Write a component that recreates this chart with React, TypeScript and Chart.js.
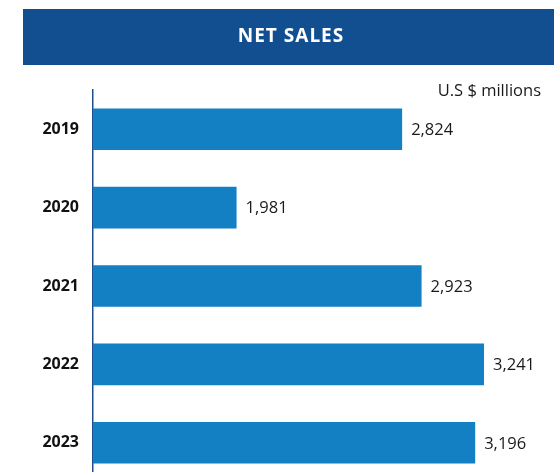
import React, { useEffect, useRef } from "react";
import { Chart, registerables } from "chart.js";

Chart.register(...registerables);

const years = ["2019", "2020", "2021", "2022", "2023"];
const netSales = [2824, 1981, 2923, 3241, 3196];
const titleText = "NET SALES";
const unitText = "U.S $ millions";

const FONT = "'Open Sans', 'Liberation Sans', sans-serif";

const headerPlugin = {
  id: "headerPlugin",
  beforeDraw(chart: any) {
    const ctx = chart.ctx;
    ctx.save();
    ctx.fillStyle = "#124f91";
    ctx.fillRect(23, 9, 531, 56);
    ctx.fillStyle = "#ffffff";
    ctx.font = `bold 19px ${FONT}`;
    try { (ctx as any).letterSpacing = "1px"; } catch (e) {}
    ctx.textAlign = "center";
    ctx.textBaseline = "middle";
    ctx.fillText(titleText, 291, 37);
    try { (ctx as any).letterSpacing = "0px"; } catch (e) {}
    ctx.fillStyle = "#1a1a1a";
    ctx.font = `16.5px ${FONT}`;
    ctx.textAlign = "right";
    ctx.textBaseline = "alphabetic";
    ctx.fillText(unitText, 541, 96);
    ctx.restore();
  },
};

const valueLabelPlugin = {
  id: "valueLabelPlugin",
  afterDatasetsDraw(chart: any) {
    const ctx = chart.ctx;
    const meta = chart.getDatasetMeta(0);
    const data = chart.data.datasets[0].data as number[];
    ctx.save();
    ctx.fillStyle = "#1a1a1a";
    ctx.font = `16.5px ${FONT}`;
    ctx.textAlign = "left";
    ctx.textBaseline = "middle";
    meta.data.forEach((bar: any, i: number) => {
      ctx.fillText(data[i].toLocaleString("en-US"), bar.x + 9, bar.y + 1);
    });
    ctx.restore();
  },
};

export default function App() {
  const ref = useRef<HTMLCanvasElement>(null);
  useEffect(() => {
    if (!ref.current) return;
    const chart = new Chart(ref.current, {
      type: "bar",
      data: {
        labels: years,
        datasets: [
          {
            data: netSales,
            backgroundColor: "#1380c3",
            borderWidth: 0,
            barPercentage: 0.53,
            categoryPercentage: 1,
          },
        ],
      },
      options: {
        indexAxis: "y",
        animation: false,
        responsive: false,
        layout: { padding: { top: 90, right: 14, bottom: 0, left: 0 } },
        plugins: {
          legend: { display: false },
          title: { display: false },
          tooltip: { enabled: false },
        },
        scales: {
          x: {
            display: false,
            min: 1250,
            max: 3526,
          },
          y: {
            grid: { display: false, drawTicks: false },
            border: { display: true, color: "#1f4e8c", width: 1.5 },
            ticks: {
              padding: 14,
              color: "#111111",
              font: { family: FONT, size: 16, weight: "bold" },
            },
            afterFit: (scale: any) => {
              scale.width = 93;
              scale.paddingTop = 0;
              scale.paddingBottom = 0;
            },
          },
        },
      },
      plugins: [headerPlugin, valueLabelPlugin],
    });
    return () => chart.destroy();
  }, []);
  return (
    <div
      style={{
        position: "fixed",
        left: 0,
        top: 0,
        width: 554,
        height: 472,
        overflow: "hidden",
        background: "#ffffff",
      }}
    >
      <canvas
        ref={ref}
        width={554}
        height={482}
        style={{ position: "absolute", left: 0, top: 0, display: "block" }}
      />
    </div>
  );
}
